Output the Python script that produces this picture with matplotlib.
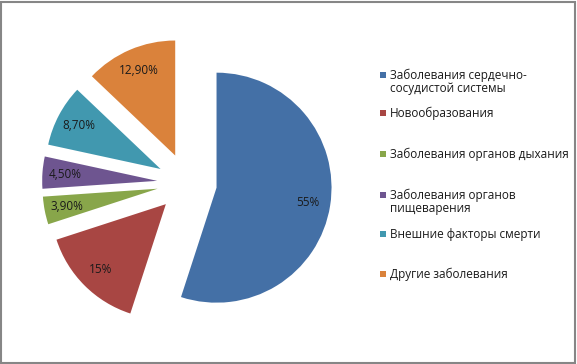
import matplotlib
matplotlib.use('Agg')
import matplotlib.pyplot as plt
from matplotlib.patches import Rectangle

plt.rcParams['font.family'] = ['Open Sans', 'DejaVu Sans']

categories = ['Заболевания сердечно-\nсосудистой системы',
              'Новообразования',
              'Заболевания органов дыхания',
              'Заболевания органов\nпищеварения',
              'Внешние факторы смерти',
              'Другие заболевания']
shares = [55, 15, 3.9, 4.5, 8.7, 12.9]
pct_labels = ['55%', '15%', '3,90%', '4,50%', '8,70%', '12,90%']
colors = ['#4470A6', '#A84643', '#88A64A', '#6E5590', '#4198AF', '#DA823B']

W, H = 577, 364
fig = plt.figure(figsize=(W / 100, H / 100), dpi=100)

# pie area: centre at (187, 181) px from bottom-left, radius 115 px
cx, cy, half, rad = 187, 181, 160, 115
ax = fig.add_axes([(cx - half) / W, (cy - half) / H, 2 * half / W, 2 * half / H])

lab = iter(pct_labels)
wedges, _, autotexts = ax.pie(shares, colors=colors, startangle=90, counterclock=False,
                              explode=[0.26] * len(shares), radius=1,
                              autopct=lambda p: next(lab), pctdistance=0.8,
                              wedgeprops=dict(linewidth=0),
                              textprops=dict(fontsize=8.5, color='#1a1a1a'))
lim = half / rad
ax.set_xlim(-lim, lim)
ax.set_ylim(-lim, lim)
ax.set_aspect('equal')
ax.axis('off')

# legend drawn by hand, marker aligned with first text line (as in Excel)
leg_y = [75, 113, 154, 195, 234, 274]
for name, col, y in zip(categories, colors, leg_y):
    fig.patches.append(Rectangle((380 / W, 1 - (y + 3) / H), 6 / W, 6 / H,
                                 transform=fig.transFigure, facecolor=col,
                                 edgecolor='none'))
    for i, line in enumerate(name.split('\n')):
        fig.text(390 / W, 1 - (y + 4 + 13 * i) / H, line, fontsize=8.5,
                 color='#1a1a1a', ha='left', va='baseline')

# outer frame
fig.patches.append(Rectangle((0.5 / W, 1.5 / H), (W - 3) / W, (H - 3) / H,
                             transform=fig.transFigure, facecolor='none',
                             edgecolor='#868686', linewidth=1.5))

fig.savefig('out.png', dpi=100)
